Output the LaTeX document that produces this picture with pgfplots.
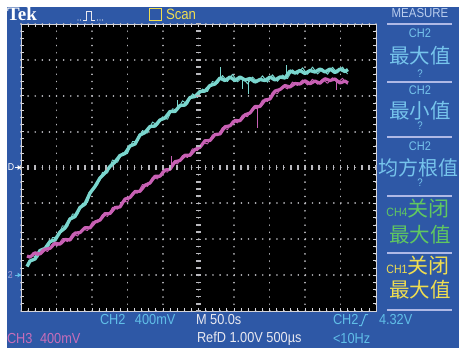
\documentclass[border=0pt]{standalone}
\usepackage{pgfplots}
\pgfplotsset{compat=1.18}
\usepackage{fontspec}
\setmainfont{Liberation Sans}[FakeStretch=0.88]
\newfontfamily\tekfont{Liberation Serif}
\newfontfamily\cjk{Noto Sans CJK SC}
\definecolor{tekblue}{RGB}{46,88,166}
\definecolor{trcyan}{RGB}{122,214,206}
\definecolor{trmag}{RGB}{200,96,180}
\definecolor{txcyan}{RGB}{96,190,232}
\definecolor{menublue}{RGB}{118,196,236}
\definecolor{measure}{RGB}{185,205,238}
\definecolor{menuline}{RGB}{175,185,230}
\definecolor{tgreen}{RGB}{96,200,96}
\definecolor{tyellow}{RGB}{240,222,80}
\definecolor{tmag}{RGB}{200,110,185}
\definecolor{twhite}{RGB}{232,232,240}
\definecolor{gridgray}{RGB}{185,185,190}
\newcommand{\sz}[1]{\fontsize{#1}{#1}\selectfont}
\begin{document}
\begin{tikzpicture}
\path[use as bounding box, fill=white] (0,0) rectangle (459pt,-348pt);
\fill[tekblue] (7pt,-7pt) rectangle (459pt,-348pt);
\begin{axis}[at={(21pt,-311pt)}, anchor=south west, scale only axis,
  width=355pt, height=287pt,
  xmin=21, xmax=376, ymin=24, ymax=311, y dir=reverse,
  axis background/.style={fill=black},
  xtick={21,56.5,92,127.5,163,198.5,234,269.5,305,340.5,376},
  ytick={24,59.875,95.75,131.625,167.5,203.375,239.25,275.125,311},
  minor x tick num=4, minor y tick num=4,
  xticklabels={}, yticklabels={},
  xtick pos=both, ytick pos=both,
  tick align=inside, major tick length=3pt, minor tick length=3pt,
  tick style={draw=twhite!85!gray, line width=0.8pt},
  axis line style={draw=twhite!80!gray, line width=0.8pt},
  grid=major,
  x grid style={draw=gridgray, line width=1.8pt, line cap=round, dash pattern=on 0.01pt off 7.175pt},
  y grid style={draw=gridgray, line width=1.8pt, line cap=round, dash pattern=on 0.01pt off 7.1pt},
  every axis plot/.append style={mark=none, line join=round},
]
% CH2 (cyan)
\addplot[trcyan, line width=3.4pt] table {
27 266.5
30 261
35 259
40 250.5
45 248.5
50 241.5
55 240
60 232
65 228
70 219
75 216.5
80 207.5
85 204
90 193
95 186.5
100 178
105 173
110 166.5
115 162
120 155.5
125 153.5
130 146
135 144
140 135
145 132.5
150 126.5
155 126
160 120
165 118
170 111.5
175 111.5
180 105.5
185 105
190 97.5
195 96.5
200 91.5
205 91
210 85.5
215 84
220 78
225 80.5
230 77
235 80.5
240 77
245 80
250 78.5
255 82
260 79.5
265 80.5
270 77
275 80
280 77
285 78
290 71
295 73
300 70.5
305 73.5
310 70.5
315 72
320 69
325 72
330 69
335 72.5
340 69
345 71.5
348 69.5
};
\addplot[trcyan, line width=0.9pt] table {
32.5 255.5
37.5 257.8
42.5 248.3
47.5 249.5
52.5 237.5
57.5 237.3
62.5 225.8
67.5 227
72.5 214
77.5 214.8
82.5 203.3
87.5 202.5
92.5 188.5
97.5 184.8
102.5 172.3
107.5 173
112.5 160
117.5 162.3
122.5 152.8
127.5 153.5
132.5 141.5
137.5 141.5
142.5 130.5
147.5 133
152.5 122
157.5 125.3
162.5 116.8
167.5 119.3
172.5 108.8
177.5 110.3
182.5 100.8
187.5 104.3
192.5 93.8
197.5 97.5
202.5 89
207.5 91.5
212.5 81.5
217.5 83.5
222.5 75.5
227.5 81.5
232.5 74.3
237.5 81.8
242.5 77.3
247.5 83.8
252.5 77
257.5 82
262.5 75.8
267.5 82.3
272.5 74.8
277.5 81.3
282.5 75
287.5 78.5
292.5 69.8
297.5 74.3
302.5 67.8
307.5 74.3
312.5 67
317.5 74
322.5 68.8
327.5 74.3
332.5 67.3
337.5 72.8
342.5 67
347.5 74
};
\addplot[trcyan, line width=1pt] coordinates {(221,80) (221,67)};
\addplot[trcyan, line width=1pt] coordinates {(287,76) (287,65)};
\addplot[trcyan, line width=1pt] coordinates {(249,80) (249,94)};
\addplot[trcyan, line width=1pt] coordinates {(243,79) (243,89)};
\addplot[trcyan, line width=1pt] coordinates {(178,108) (178,100)};
% CH3 (magenta)
\addplot[trmag, line width=3.2pt] table {
27 256
30 257.1
35 252.8
40 254
45 249.2
50 248.4
55 243.1
60 244.2
65 239.4
70 240
75 233.1
80 232.6
85 227.7
90 227.9
95 222
100 220.1
105 213.6
110 213.6
115 207.5
120 207
125 199
130 197.5
135 191.5
140 191.3
145 185.2
150 183
155 176.3
160 176.2
165 170
170 169.3
175 161.7
180 160.5
185 155.2
190 155.3
195 149.5
200 147.3
205 140.7
210 140.5
215 134.5
220 134
225 126.7
230 125.8
235 120.5
240 120.7
245 114.8
250 113
255 106.5
260 106.5
265 100
270 99
275 91
280 89.5
285 85.5
290 87
295 83.5
300 84
305 80.7
310 83.8
315 81
320 83.3
325 78.7
330 80.5
335 79
340 83
345 81.1
348 83
};
\addplot[trmag, line width=0.9pt] table {
32.5 252.5
37.5 255.7
42.5 248.9
47.5 251.6
52.5 243.8
57.5 245.9
62.5 238.6
67.5 241.7
72.5 233.6
77.5 236.1
82.5 228.7
87.5 230.6
92.5 221.7
97.5 222.8
102.5 214.4
107.5 216.4
112.5 207.3
117.5 209.3
122.5 201
127.5 202
132.5 192.5
137.5 193.2
142.5 184.5
147.5 186.4
152.5 177.2
157.5 179
162.5 170.9
167.5 172.2
172.5 163
177.5 163.9
182.5 155.4
187.5 157.5
192.5 148.7
197.5 150.7
202.5 142.5
207.5 143.9
212.5 134.8
217.5 135.8
222.5 127.4
227.5 129.5
232.5 120.7
237.5 122.9
242.5 115
247.5 116.7
252.5 107.8
257.5 108.8
262.5 100
267.5 101.5
272.5 92
277.5 93.5
282.5 86
287.5 89
292.5 82
297.5 85.5
302.5 79.9
307.5 85
312.5 79.2
317.5 84.2
322.5 79
327.5 83.4
332.5 77.8
337.5 82.8
342.5 78.3
347.5 84.3
};
\addplot[trmag, line width=1pt] coordinates {(258,106) (258,128)};
\addplot[trmag, line width=1pt] coordinates {(172,166) (172,156)};
\addplot[trmag, line width=1pt] coordinates {(337,82) (337,90)};
\end{axis}
\begin{scope}[x=1pt,y=-1pt, every node/.style={inner sep=0pt, outer sep=0pt}]
% centre graticule dashes
\foreach \k in {0,...,40} \draw[gridgray, line width=1.5pt] (196.2,{24+\k*7.175}) -- (200.8,{24+\k*7.175});
\foreach \k in {0,...,50} \draw[gridgray, line width=1.5pt] ({21+\k*7.1},165.0) -- ({21+\k*7.1},170.0);
% header
\node[anchor=west, text=white] at (7,14) {\tekfont\bfseries\sz{19}Tek};
\draw[twhite, line width=0.9pt] (83,20)--(86,20)--(86,11)--(91,11)--(91,20)--(95,20);
\foreach \xx in {78,80.5,97.5,100,102.5} \fill[twhite] (\xx,20) circle (0.6);
\draw[tyellow, line width=1pt] (149,8.5) rectangle (161,20);
\node[anchor=west, text=tyellow] at (166,14) {\sz{15}Scan};
% left markers
\node[anchor=west, text=white] at (8,167.5) {\sz{10}D};
\draw[white, line width=0.8pt] (15,167.5) -- (21,167.5);
\fill[white] (21,167.5) -- (17.5,165) -- (17.5,170) -- cycle;
\node[anchor=west, text=txcyan] at (8,275) {\sz{10}2};
\node[anchor=west, text=tmag, opacity=0.6] at (8,275) {\sz{10}3};
\draw[txcyan, line width=0.8pt] (15,275) -- (21,275);
\fill[txcyan] (21,275) -- (17.5,272.5) -- (17.5,277.5) -- cycle;
% menu
\node[text=measure] at (420,13) {\sz{13}MEASURE};
\foreach \yy in {24,82,137,196,253,310} \draw[menuline, line width=1.2pt] (387,\yy) -- (452,\yy);
\node[text=menublue] at (420,33) {\sz{12.5}CH2};
\node[text=menublue] at (420,56) {\cjk\sz{20.5}最大值};
\node[text=menublue] at (420,74) {\sz{11}?};
\node[text=menublue] at (420,90) {\sz{12.5}CH2};
\node[text=menublue] at (420,111) {\cjk\sz{20.5}最小值};
\node[text=menublue] at (420,126) {\sz{11}?};
\node[text=menublue] at (420,146) {\sz{12.5}CH2};
\node[text=menublue] at (418,168) {\cjk\sz{20}均方根值};
\node[text=menublue] at (420,183) {\sz{11}?};
\node[text=tgreen] at (418,209) {\sz{12}CH4\cjk\sz{21}关闭};
\node[text=tgreen] at (420,235) {\cjk\sz{20.5}最大值};
\node[text=tyellow] at (418,266) {\sz{12}CH1\cjk\sz{21}关闭};
\node[text=tyellow] at (420,290) {\cjk\sz{20.5}最大值};
% bottom status lines
\node[anchor=west, text=txcyan] at (100,320) {\sz{14.5}CH2};
\node[anchor=west, text=txcyan] at (135,320) {\sz{14.5}400mV};
\node[anchor=west, text=twhite] at (196,320) {\sz{14.5}M 50.0s};
\node[anchor=west, text=txcyan] at (333,320) {\sz{14.5}CH2};
\draw[txcyan, line width=1pt] (359,325.5)--(361.5,325.5)--(365.5,314.5)--(368,314.5);
\node[anchor=west, text=txcyan] at (379,320) {\sz{14.5}4.32V};
\node[anchor=west, text=tmag] at (7,339) {\sz{14.5}CH3};
\node[anchor=west, text=tmag] at (40,339) {\sz{14.5}400mV};
\node[anchor=west, text=twhite] at (197,339) {\sz{14.5}RefD 1.00V 500µs};
\node[anchor=west, text=txcyan] at (333,339) {\sz{14.5}<10Hz};
\end{scope}
\end{tikzpicture}
\end{document}
